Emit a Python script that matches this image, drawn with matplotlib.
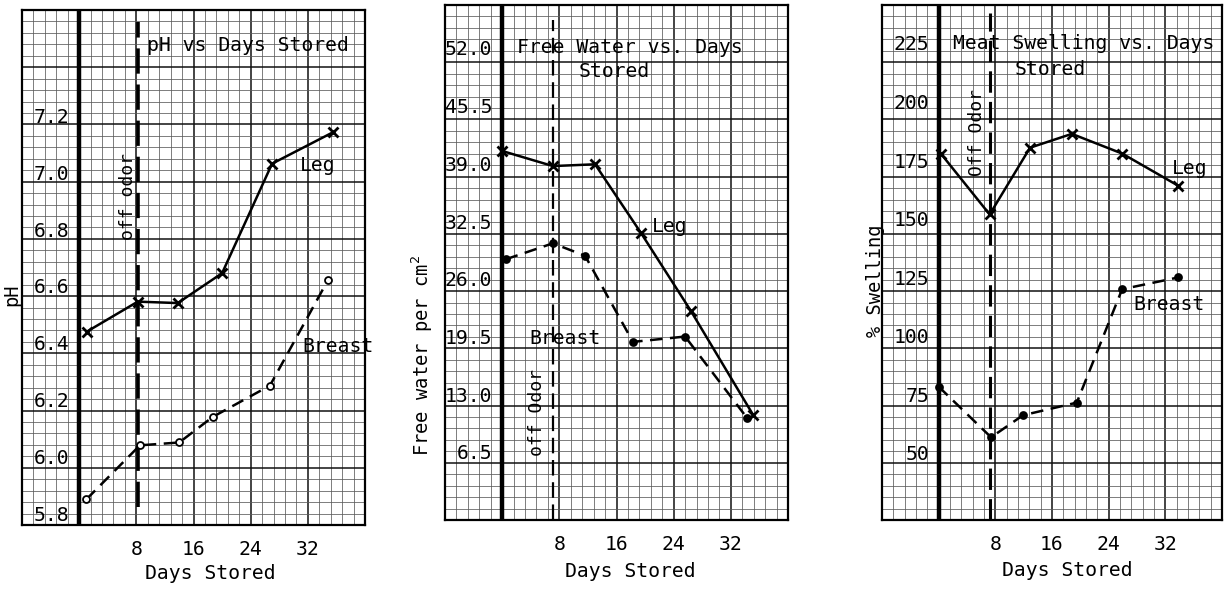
import matplotlib
matplotlib.use('Agg')
import matplotlib.pyplot as plt

plt.rcParams['font.family'] = ['DejaVu Sans Mono', 'Liberation Mono']
plt.rcParams['mathtext.default'] = 'regular'

# ---------------- data ----------------
# Panel 1: pH vs days stored
ph_leg_days = [1.1, 8.2, 13.8, 20.0, 27.0, 35.5]
ph_leg = [6.44, 6.545, 6.54, 6.645, 7.03, 7.14]
ph_breast_days = [1.0, 8.5, 14.0, 18.7, 26.7, 34.8]
ph_breast = [5.85, 6.04, 6.05, 6.14, 6.25, 6.62]
ph_ticks = [5.8, 6.0, 6.2, 6.4, 6.6, 6.8, 7.0, 7.2]
ph_ticklabels = ['5.8', '6.0', '6.2', '6.4', '6.6', '6.8', '7.0', '7.2']

# Panel 2: free water vs days stored
fw_leg_days = [0.0, 7.1, 13.0, 19.4, 26.4, 35.1]
fw_leg = [40.4, 38.7, 38.9, 31.2, 22.4, 10.7]
fw_breast_days = [0.5, 7.1, 11.6, 18.3, 25.6, 34.3]
fw_breast = [28.2, 30.0, 28.6, 18.9, 19.5, 10.3]
fw_ticks = [6.5, 13.0, 19.5, 26.0, 32.5, 39.0, 45.5, 52.0]
fw_ticklabels = ['6.5', '13.0', '19.5', '26.0', '32.5', '39.0', '45.5', '52.0']

# Panel 3: meat swelling vs days stored
sw_leg_days = [0.3, 7.2, 12.9, 18.8, 25.9, 33.8]
sw_leg = [177.8, 151.8, 180.3, 186.2, 177.8, 164.1]
sw_breast_days = [0.0, 7.4, 11.9, 19.5, 25.9, 33.8]
sw_breast = [78.3, 56.7, 66.1, 71.5, 119.9, 124.9]
sw_ticks = [50, 75, 100, 125, 150, 175, 200, 225]
sw_ticklabels = ['50', '75', '100', '125', '150', '175', '200', '225']

day_ticks = [8, 16, 24, 32]
day_ticklabels = ['8', '16', '24', '32']

# ---------------- figure ----------------
W, H = 1227, 591
fig = plt.figure(figsize=(W / 100, H / 100), dpi=100)
FS = 14.2


def rect_px(l, t, r, b):
    return [l / W, (H - b) / H, (r - l) / W, (b - t) / H]


def graph_paper(rect):
    bg = fig.add_axes(rect)
    bg.set_xlim(0, 30)
    bg.set_ylim(0, 45)
    bg.set_axis_off()
    for i in range(31):
        major = i % 5 == 0
        bg.axvline(i, color='#111111' if major else '#5a5a5a',
                   lw=1.1 if major else 0.55, zorder=0)
    for j in range(46):
        major = j % 5 == 0
        bg.axhline(j, color='#111111' if major else '#5a5a5a',
                   lw=1.1 if major else 0.55, zorder=0)
    return bg


def panel(rect, ylim, yticks, yticklabels, leg_x, leg_y, br_x, br_y,
          odor_x, odor_span, breast_open, odor_lw):
    graph_paper(rect)
    ax = fig.add_axes(rect, facecolor='none')
    ax.set_xlim(-8, 40)
    ax.set_ylim(*ylim)
    for s in ax.spines.values():
        s.set_linewidth(1.6)
    ax.set_xticks(day_ticks)
    ax.set_xticklabels(day_ticklabels, fontsize=FS)
    ax.set_yticks(yticks)
    ax.set_yticklabels(yticklabels, fontsize=FS)
    ax.tick_params(axis='x', length=0, pad=11)
    ax.tick_params(axis='y', length=0, pad=-34)
    ax.axvline(0, color='black', lw=3.2, zorder=2)
    ax.axvline(odor_x, ymin=odor_span[0], ymax=odor_span[1], color='black',
               lw=odor_lw, ls=(0, (7, 3)), zorder=2)
    ax.plot(leg_x, leg_y, '-', color='black', lw=1.8, marker='x', ms=7,
            mew=2, zorder=3)
    ax.plot(br_x, br_y, '--', color='black', lw=1.8, dashes=(5, 3),
            marker='o', ms=5, mew=1.3,
            mfc='white' if breast_open else 'black', mec='black', zorder=3)
    return ax


def label(ax, x, y, s, **kw):
    kw.setdefault('fontsize', FS)
    kw.setdefault('ha', 'left')
    kw.setdefault('va', 'center')
    ax.text(x, y, s, transform=ax.transAxes, **kw)


# Panel 1
r1 = rect_px(22, 10, 365, 525)
ax1 = panel(r1, (5.76, 7.57), ph_ticks, ph_ticklabels,
            ph_leg_days, ph_leg, ph_breast_days, ph_breast,
            8.2, (0.035, 0.977), True, 2.6)
ax1.set_xlabel('Days Stored', fontsize=FS)
ax1.xaxis.set_label_coords(0.548, -0.076)
ax1.set_ylabel('pH', fontsize=13.5)
ax1.yaxis.set_label_coords(-0.003, 0.447)
label(ax1, 0.364, 0.932, 'pH vs Days Stored')
label(ax1, 0.810, 0.698, 'Leg')
label(ax1, 0.816, 0.347, 'Breast')
label(ax1, 0.309, 0.637, 'off odor', fontsize=13, ha='center', rotation=90)

# Panel 2
r2 = rect_px(445, 5, 788, 520)
ax2 = panel(r2, (-1.16, 56.84), fw_ticks, fw_ticklabels,
            fw_leg_days, fw_leg, fw_breast_days, fw_breast,
            7.1, (0.0, 0.97), False, 1.6)
ax2.set_xlabel('Days Stored', fontsize=FS)
ax2.xaxis.set_label_coords(0.539, -0.082)
ax2.set_ylabel('Free water per cm$^2$', fontsize=13.5)
ax2.yaxis.set_label_coords(-0.030, 0.320)
label(ax2, 0.210, 0.917, 'Free Water vs. Days')
label(ax2, 0.391, 0.870, 'Stored')
label(ax2, 0.603, 0.570, 'Leg')
label(ax2, 0.245, 0.352, 'Breast')
label(ax2, 0.268, 0.209, 'off Odor', fontsize=13, ha='center', rotation=90)

# Panel 3
r3 = rect_px(882, 5, 1222, 520)
ax3 = panel(r3, (21.4, 241.2), sw_ticks, sw_ticklabels,
            sw_leg_days, sw_leg, sw_breast_days, sw_breast,
            7.2, (0.0, 0.985), False, 2.2)
ax3.set_xlabel('Days Stored', fontsize=FS)
ax3.xaxis.set_label_coords(0.544, -0.080)
ax3.set_ylabel('% Swelling', fontsize=13.5)
ax3.yaxis.set_label_coords(0.009, 0.464)
label(ax3, 0.209, 0.926, 'Meat Swelling vs. Days')
label(ax3, 0.391, 0.874, 'Stored')
label(ax3, 0.853, 0.683, 'Leg')
label(ax3, 0.738, 0.418, 'Breast')
label(ax3, 0.279, 0.753, 'Off Odor', fontsize=13, ha='center', rotation=90)

fig.savefig('out.png', dpi=100)
